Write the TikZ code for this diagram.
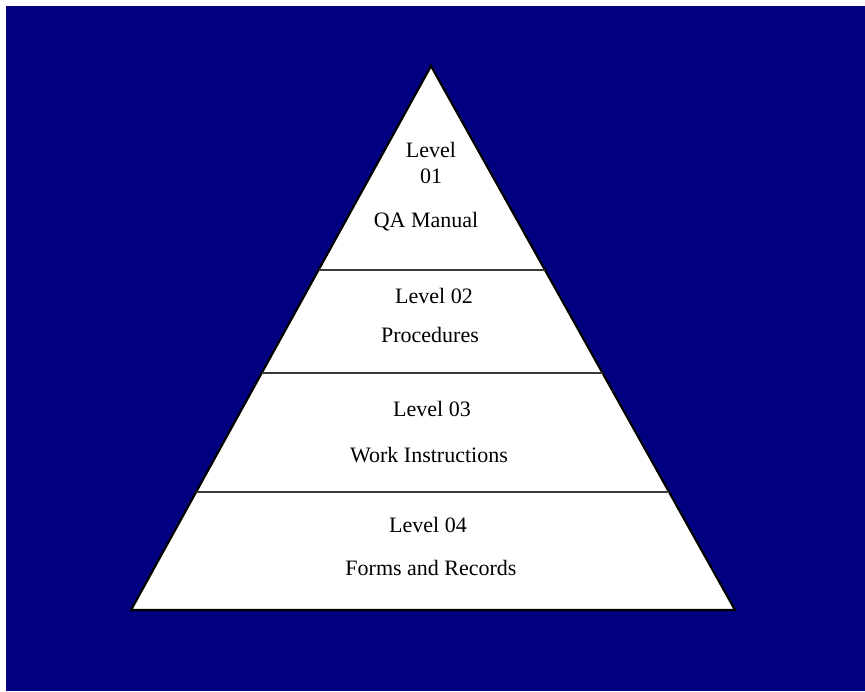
\documentclass[tikz,border=0pt]{standalone}
\usepackage{fontspec}
\setmainfont{Liberation Serif}
\definecolor{navybg}{HTML}{000080}
\definecolor{sepline}{HTML}{3A3A3A}
\begin{document}
\begin{tikzpicture}[x=1pt,y=-1pt,
  lbl/.style={anchor=base,inner sep=0pt,font=\fontsize{22}{24}\selectfont,text=black},
  sep/.style={draw=sepline,line width=1.6pt}]
\useasboundingbox (0,0) rectangle (865,691);
\fill[white] (0,0) rectangle (865,691);
\fill[navybg] (6,6) rectangle (865,691);
% pyramid
\coordinate (apex) at (431,66);
\coordinate (bl) at (131,610);
\coordinate (br) at (735,610);
\filldraw[fill=white,draw=black,line width=2.2pt,line join=miter] (apex) -- (br) -- (bl) -- cycle;
% separators
\foreach \yy/\nm in {270/a,373/b,492/c}{
  \path (apex) -- (bl) coordinate[pos={(\yy-66)/544}] (l\nm);
  \path (apex) -- (br) coordinate[pos={(\yy-66)/544}] (r\nm);
  \draw[sep] (l\nm) -- (r\nm);
}
% labels
\node[lbl] (t1) at (431,157) {Level};
\node[lbl] (t2) at (431,183) {01};
\node[lbl] (t3) at (426,227) {QA Manual};
\node[lbl] (t4) at (434,303) {Level 02};
\node[lbl] (t5) at (430,342) {Procedures};
\node[lbl] (t6) at (432,416) {Level 03};
\node[lbl] (t7) at (429,462) {Work Instructions};
\node[lbl] (t8) at (428,532) {Level 04};
\node[lbl] (t9) at (431,575) {Forms and Records};
\end{tikzpicture}
\end{document}
